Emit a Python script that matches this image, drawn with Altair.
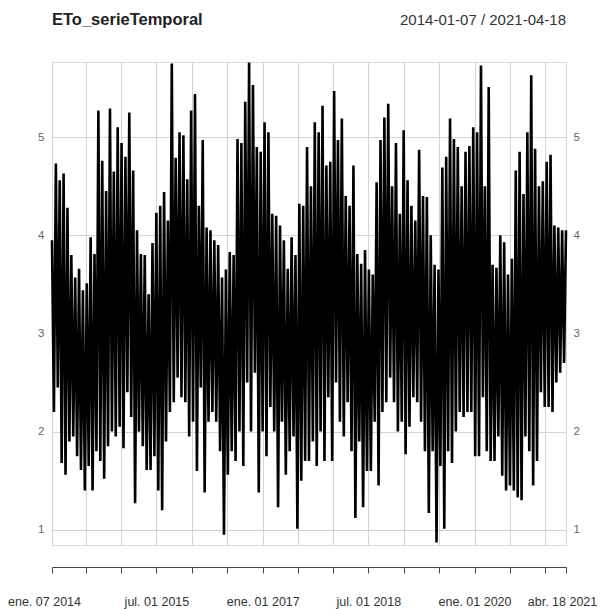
import altair as alt
import pandas as pd

title_text = "ETo_serieTemporal"
range_text = "2014-01-07 / 2021-04-18"
start_date = "2014-01-07"
end_date = "2021-04-18"

# upper envelope of the daily series, one value per ~20-day column
hi_vals = [3.95, 4.73, 4.56, 4.63, 4.28, 3.80, 3.57, 3.66, 3.44, 3.51,
           3.98, 3.81, 5.27, 4.76, 4.45, 5.29, 4.65, 5.10, 4.94, 4.80,
           5.25, 4.66, 4.05, 3.81, 3.80, 3.40, 3.92, 4.23, 4.30, 4.44,
           4.15, 5.75, 4.79, 5.05, 5.02, 4.57, 5.27, 5.44, 4.30, 4.97,
           4.08, 4.05, 3.95, 3.90, 3.57, 3.65, 3.83, 3.80, 4.98, 4.94,
           5.36, 5.76, 5.53, 4.90, 4.85, 5.15, 5.05, 4.22, 4.20, 4.10,
           3.95, 3.66, 3.98, 3.80, 4.32, 4.30, 4.90, 4.50, 5.15, 5.05,
           5.32, 4.71, 4.75, 5.47, 4.97, 5.19, 4.40, 4.30, 4.71, 3.81,
           3.71, 3.85, 3.65, 3.60, 4.54, 4.97, 5.20, 5.34, 4.50, 4.94,
           4.22, 5.07, 4.56, 4.30, 4.15, 4.87, 4.40, 4.39, 4.00, 3.70,
           3.65, 4.69, 4.80, 5.19, 4.98, 4.90, 4.50, 4.85, 4.91, 5.10,
           5.05, 5.73, 4.50, 5.51, 3.70, 3.67, 4.00, 3.93, 3.60, 3.76,
           4.66, 4.85, 4.42, 5.05, 5.63, 4.88, 4.50, 4.55, 4.75, 4.82,
           4.10, 4.08, 4.05, 4.05]

# lower envelope, one value between consecutive columns
lo_vals = [2.20, 2.45, 1.68, 1.56, 1.90, 1.95, 1.75, 1.61, 1.40, 1.65,
           1.40, 1.80, 1.70, 1.52, 1.85, 2.00, 1.95, 2.05, 1.83, 2.40,
           2.15, 1.27, 2.00, 1.85, 1.61, 1.61, 1.75, 1.40, 1.20, 1.90,
           2.20, 2.30, 2.55, 2.35, 2.30, 1.95, 2.10, 1.60, 2.45, 1.38,
           2.10, 2.20, 2.10, 1.80, 0.95, 1.56, 1.80, 1.70, 2.00, 1.65,
           2.50, 2.00, 2.60, 1.38, 2.00, 1.75, 2.25, 2.00, 1.23, 2.10,
           1.56, 1.80, 1.95, 1.01, 1.50, 1.70, 1.70, 1.90, 1.65, 2.00,
           1.70, 2.35, 1.70, 2.50, 2.10, 1.95, 2.30, 1.80, 1.12, 1.90,
           1.23, 1.60, 1.60, 2.10, 1.45, 2.20, 2.30, 2.55, 2.30, 2.00,
           2.10, 1.77, 2.05, 2.35, 2.30, 2.10, 1.80, 1.17, 1.80, 0.87,
           1.65, 1.01, 1.80, 1.68, 2.00, 2.20, 2.15, 2.20, 2.20, 1.75,
           1.75, 2.35, 1.80, 1.70, 1.70, 1.95, 1.55, 1.40, 1.45, 1.40,
           1.33, 1.30, 1.95, 1.80, 1.45, 1.70, 2.40, 2.25, 2.25, 2.20,
           2.50, 2.60, 2.70]

tick_dates = ["2014-01-07", "2014-07-01", "2015-01-01", "2015-07-01", "2016-01-01",
              "2016-07-01", "2017-01-01", "2017-07-01", "2018-01-01", "2018-07-01",
              "2019-01-01", "2019-07-01", "2020-01-01", "2020-07-01", "2021-01-01",
              "2021-04-18"]
label_dates = ["2014-01-07", "2015-07-01", "2017-01-01", "2018-07-01", "2020-01-01", "2021-04-18"]
label_texts = ["ene. 07 2014", "jul. 01 2015", "ene. 01 2017", "jul. 01 2018", "ene. 01 2020", "abr. 18 2021"]
y_ticks = [1, 2, 3, 4, 5]
y_domain = [0.845, 5.765]


def ms(ts):
    # UTC epoch milliseconds
    return int(pd.Timestamp(ts).value // 10**6)


# ---- build the table ----
dates = pd.date_range(start_date, end_date, periods=len(hi_vals))
half = (dates[1] - dates[0]) / 2
rows = []
for i, h in enumerate(hi_vals):
    rows.append({"t": ms(dates[i]), "eto": h})
    if i < len(lo_vals):
        rows.append({"t": ms(dates[i] + half), "eto": lo_vals[i]})
df = pd.DataFrame(rows)

label_expr = " : ".join(
    f"utcFormat(datum.value, '%Y-%m-%d') == '{d}' ? '{t}'" for d, t in zip(label_dates, label_texts)
) + " : ''"

FONT = "Liberation Sans"
GRID = "#d4d4d4"
x_scale = alt.Scale(type="utc", domain=[ms(start_date), ms(end_date)], nice=False)

first_test = f"datum.value <= {ms(start_date)}"
last_test = f"datum.value >= {ms(end_date)}"

x_enc = alt.X(
    "t:T",
    scale=x_scale,
    axis=alt.Axis(
        values=[ms(d) for d in tick_dates],
        tickCount=len(tick_dates) + 10,
        labelExpr=label_expr,
        grid=True, gridColor=GRID, gridWidth=1,
        domain=True, domainColor="#444444", domainWidth=1,
        ticks=True, tickColor="#444444", tickSize=6, tickWidth=1,
        offset=22, labelPadding=22,
        labelOffset={"expr": f"({first_test}) ? -8 : (({last_test}) ? -4 : 0)"},
        labelFont=FONT, labelFontSize=12.5, labelColor="#333333",
        labelOverlap=False, labelFlush=False, title=None,
    ),
)
y_scale = alt.Scale(domain=y_domain, nice=False, zero=False)

line = alt.Chart(df).mark_line(color="black", strokeWidth=2.6).encode(
    x=x_enc,
    y=alt.Y("eto:Q", scale=y_scale,
            axis=alt.Axis(orient="left", values=y_ticks, grid=True, gridColor=GRID, gridWidth=1,
                          domain=False, ticks=False, labelPadding=8,
                          labelFont=FONT, labelFontSize=11.5, labelColor="#666666", title=None)),
)

right_axis = alt.Chart(df).mark_line(opacity=0).encode(
    x=alt.X("t:T", scale=x_scale),
    y=alt.Y("eto:Q", scale=y_scale,
            axis=alt.Axis(orient="right", values=y_ticks, grid=False,
                          domain=False, ticks=False, labelPadding=7,
                          labelFont=FONT, labelFontSize=11.5, labelColor="#666666", title=None)),
)

header_df = pd.DataFrame({
    "t": [ms(start_date), ms(end_date)],
    "label": [title_text, range_text],
    "side": ["left", "right"],
})
title_label = alt.Chart(header_df).transform_filter("datum.side == 'left'").mark_text(
    align="left", baseline="alphabetic", font=FONT, fontSize=16.5, fontWeight="bold", color="#222222"
).encode(x=alt.X("t:T", scale=x_scale), y=alt.value(-37), text="label:N")

range_label = alt.Chart(header_df).transform_filter("datum.side == 'right'").mark_text(
    align="right", baseline="alphabetic", font=FONT, fontSize=15, color="#333333"
).encode(x=alt.X("t:T", scale=x_scale), y=alt.value(-37), text="label:N")

chart = alt.layer(line, right_axis, title_label, range_label).resolve_axis(y="independent").properties(
    width=514,
    height=483,
    autosize=alt.AutoSizeParams(type="none"),
    padding={"left": 52, "top": 62, "right": 34, "bottom": 64},
).configure_view(stroke=None).configure(background="white")

chart.save("out.html", embed_options={"renderer": "svg", "actions": False})
